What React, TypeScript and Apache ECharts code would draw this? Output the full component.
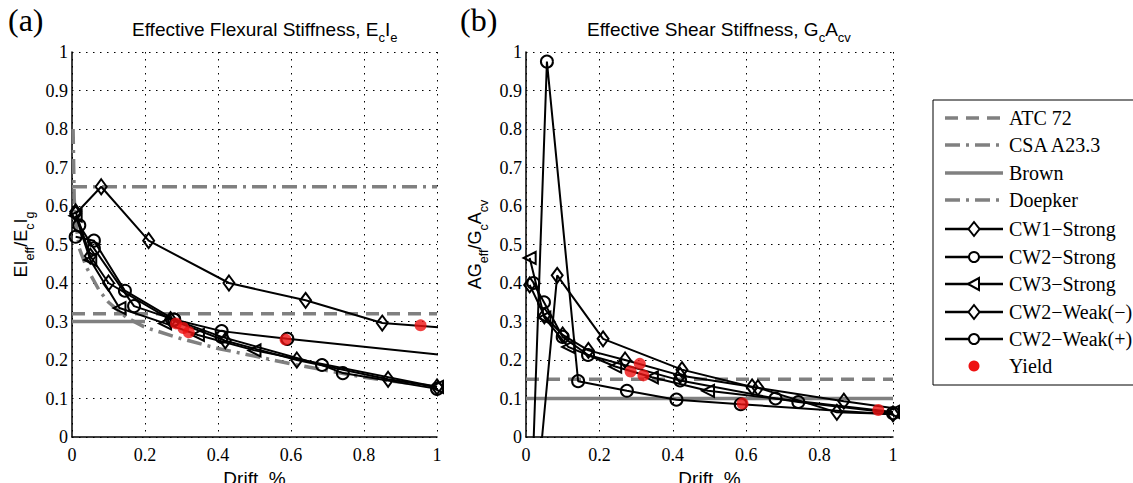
import React, { useEffect, useRef } from 'react';
import * as echarts from 'echarts';

// ---------- data (drift %, stiffness ratio) ----------
// Panel (a): flexural
const flexATC72 = [[0, 0.32], [1, 0.32]];
const flexCSA = [[0, 0.65], [1, 0.65]];
const flexBrown = [[0, 0.3], [0.2, 0.3]];
const flexDoepker = [[0.003, 0.8], [0.006, 0.62], [0.01, 0.56], [0.02, 0.49], [0.04, 0.44], [0.075, 0.38], [0.1, 0.35], [0.15, 0.31], [0.2, 0.285], [0.3, 0.255], [0.4, 0.23], [0.5, 0.21], [0.6, 0.19], [0.8, 0.155], [1.0, 0.13]];
const flexCW1S = [[0.01, 0.58], [0.08, 0.65], [0.21, 0.51], [0.43, 0.4], [0.64, 0.355], [0.85, 0.296], [1.1, 0.278]];
const flexCW2S = [[0.01, 0.52], [0.06, 0.51], [0.145, 0.38], [0.28, 0.305], [0.41, 0.275], [0.59, 0.255], [1.1, 0.205]];
const flexCW3S = [[0.01, 0.575], [0.05, 0.46], [0.13, 0.335], [0.255, 0.295], [0.345, 0.265], [0.5, 0.225], [1.0, 0.13]];
const flexCW2Wm = [[0.01, 0.585], [0.05, 0.47], [0.1, 0.4], [0.27, 0.305], [0.42, 0.25], [0.616, 0.2], [0.866, 0.15], [1.0, 0.13]];
const flexCW2Wp = [[0.02, 0.55], [0.06, 0.49], [0.17, 0.34], [0.28, 0.305], [0.41, 0.26], [0.685, 0.187], [0.742, 0.166], [1.0, 0.125]];
const flexYield = [[0.285, 0.295], [0.305, 0.283], [0.32, 0.272], [0.585, 0.253], [0.955, 0.29]];

// Panel (b): shear
const shearATC72 = [[0, 0.15], [1, 0.15]];
const shearBrown = [[0, 0.1], [1, 0.1]];
const shearCW1S = [[0.038, -0.06], [0.085, 0.42], [0.21, 0.255], [0.425, 0.175], [0.616, 0.13], [0.866, 0.093], [1.1, 0.062]];
const shearCW2S = [[0.01, -0.3], [0.057, 0.975], [0.142, 0.145], [0.275, 0.12], [0.41, 0.097], [0.585, 0.085], [1.1, 0.052]];
const shearCW3S = [[0.01, 0.465], [0.05, 0.31], [0.115, 0.234], [0.243, 0.183], [0.343, 0.155], [0.496, 0.12], [1.0, 0.065]];
const shearCW2Wm = [[0.01, 0.395], [0.05, 0.315], [0.1, 0.265], [0.17, 0.225], [0.27, 0.2], [0.42, 0.16], [0.632, 0.128], [0.847, 0.064], [1.0, 0.06]];
const shearCW2Wp = [[0.02, 0.4], [0.049, 0.35], [0.1, 0.26], [0.169, 0.213], [0.42, 0.147], [0.68, 0.1], [0.742, 0.091], [1.0, 0.062]];
const shearYield = [[0.285, 0.17], [0.31, 0.19], [0.32, 0.16], [0.59, 0.087], [0.96, 0.07]];

const legendNames = ['ATC 72', 'CSA A23.3', 'Brown', 'Doepker', 'CW1\u2212Strong', 'CW2\u2212Strong', 'CW3\u2212Strong', 'CW2\u2212Weak(\u2212)', 'CW2\u2212Weak(+)', 'Yield'];

const GRAY = '#808080';
const RED = '#ee1111';
const SERIF = 'Liberation Serif';
const SANS = 'Liberation Sans';
const DASH = [13, 8];
const DASHDOT = [15, 6, 3, 6];

const gray = (name: string, data: number[][], idx: number, type: any) => ({
  type: 'line', name, data, xAxisIndex: idx, yAxisIndex: idx, symbol: 'none', silent: true, z: 2,
  lineStyle: { color: GRAY, width: 3.5, type },
});

const black = (name: string, data: number[][], idx: number, symbol: string, size: any, rotate = 0) => ({
  type: 'line', name, data, xAxisIndex: idx, yAxisIndex: idx, symbol, symbolSize: size, symbolRotate: rotate,
  showAllSymbol: true, clip: true, silent: true, z: 3,
  lineStyle: { color: '#000', width: 2 },
  itemStyle: { color: 'rgba(0,0,0,0)', borderColor: '#000', borderWidth: 2 },
});

const yieldS = (data: number[][], idx: number) => ({
  type: 'scatter', name: 'Yield', data, xAxisIndex: idx, yAxisIndex: idx, symbol: 'circle', symbolSize: 12,
  silent: true, z: 4, itemStyle: { color: RED },
});

const rich = {
  n: { fontFamily: SANS, fontSize: 19, fontWeight: 'normal', color: '#000', lineHeight: 30 },
  s: { fontFamily: SANS, fontSize: 13, fontWeight: 'normal', color: '#000', lineHeight: 10, verticalAlign: 'bottom' },
};
const richY = {
  n: { fontFamily: SANS, fontSize: 18, fontWeight: 'normal', color: '#000', lineHeight: 30 },
  s: { fontFamily: SANS, fontSize: 12.5, fontWeight: 'normal', color: '#000', lineHeight: 10, verticalAlign: 'bottom' },
};

const makeX = (idx: number) => ({
  type: 'value', gridIndex: idx, min: 0, max: 1, interval: 0.2,
  name: 'Drift, %', nameLocation: 'middle', nameGap: 32,
  nameTextStyle: { fontFamily: SANS, fontSize: 19, color: '#000' },
  axisLine: { show: true, onZero: false, lineStyle: { color: '#000', width: 1.5 } },
  axisTick: { show: false },
  axisLabel: { fontFamily: SERIF, fontSize: 18, color: '#000', margin: 9 },
  splitLine: { show: true, lineStyle: { color: '#000', width: 1, type: [1.5, 5.5] } },
});

const makeY = (idx: number, name: string) => ({
  type: 'value', gridIndex: idx, min: 0, max: 1, interval: 0.1,
  name, nameLocation: 'middle', nameGap: 36, nameRotate: 90,
  nameTextStyle: { rich: richY },
  axisLine: { show: true, onZero: false, lineStyle: { color: '#000', width: 1.5 } },
  axisTick: { show: false },
  axisLabel: { fontFamily: SERIF, fontSize: 18, color: '#000', margin: 4 },
  splitLine: { show: true, lineStyle: { color: '#000', width: 1, type: [1.5, 5.5] } },
});

function legendGraphics() {
  const els: any[] = [];
  els.push({ type: 'rect', shape: { x: 933, y: 100, width: 215, height: 285 }, style: { fill: '#fff', stroke: '#000', lineWidth: 1 }, z: 10 });
  const x1 = 945, x2 = 1003, cx = 974;
  const ys = [118, 145, 173, 200, 229, 257, 284, 312, 339, 366];
  const styles: any[] = [
    { stroke: GRAY, lineWidth: 3.5, lineDash: DASH },
    { stroke: GRAY, lineWidth: 3.5, lineDash: DASHDOT },
    { stroke: GRAY, lineWidth: 3.5 },
    { stroke: GRAY, lineWidth: 3.5, lineDash: DASHDOT },
  ];
  ys.forEach((y, i) => {
    if (i < 4) {
      els.push({ type: 'line', shape: { x1, y1: y, x2, y2: y }, style: styles[i], z: 11 });
    } else if (i < 9) {
      els.push({ type: 'line', shape: { x1, y1: y, x2, y2: y }, style: { stroke: '#000', lineWidth: 2.5 }, z: 11 });
      const m = i - 4;
      if (m === 0 || m === 3) {
        els.push({ type: 'polygon', shape: { points: [[cx, y - 7], [cx + 5.5, y], [cx, y + 7], [cx - 5.5, y]] }, style: { fill: '#fff', stroke: '#000', lineWidth: 2 }, z: 12 });
      } else if (m === 1 || m === 4) {
        els.push({ type: 'circle', shape: { cx, cy: y, r: 5 }, style: { fill: '#fff', stroke: '#000', lineWidth: 2 }, z: 12 });
      } else {
        els.push({ type: 'polygon', shape: { points: [[cx - 6, y], [cx + 5, y - 6], [cx + 5, y + 6]] }, style: { fill: '#fff', stroke: '#000', lineWidth: 2 }, z: 12 });
      }
    } else {
      els.push({ type: 'circle', shape: { cx, cy: y, r: 5.5 }, style: { fill: RED }, z: 12 });
    }
    els.push({ type: 'text', x: 1009, y, style: { text: legendNames[i], fontFamily: SERIF, fontSize: 20, fill: '#000', verticalAlign: 'middle', align: 'left' }, z: 12 });
  });
  els.push({ type: 'text', x: 8, y: 4, style: { text: '(a)', fontFamily: SERIF, fontSize: 32, fill: '#000' } });
  els.push({ type: 'text', x: 460, y: 4, style: { text: '(b)', fontFamily: SERIF, fontSize: 32, fill: '#000' } });
  return els;
}

export default function App() {
  const ref = useRef<HTMLDivElement>(null);
  useEffect(() => {
    if (!ref.current) return;
    const chart = echarts.init(ref.current, undefined, { renderer: 'svg' });
    chart.setOption({
      animation: false,
      backgroundColor: '#fff',
      title: [
        { text: '{n|Effective Flexural Stiffness, E}{s|c}{n|I}{s|e}', left: 132, top: 14, padding: 0, textStyle: { fontWeight: 'normal', rich } },
        { text: '{n|Effective Shear Stiffness, G}{s|c}{n|A}{s|cv}', left: 587, top: 14, padding: 0, textStyle: { fontWeight: 'normal', rich } },
      ],
      grid: [
        { left: 72, top: 52, width: 365, height: 385, containLabel: false, outerBoundsMode: 'none' },
        { left: 526, top: 52, width: 367, height: 385, containLabel: false, outerBoundsMode: 'none' },
      ],
      xAxis: [makeX(0), makeX(1)],
      yAxis: [
        makeY(0, '{n|EI}{s|eff}{n|/E}{s|c}{n|I}{s|g}'),
        makeY(1, '{n|AG}{s|eff}{n|/G}{s|c}{n|A}{s|cv}'),
      ],
      series: [
        gray('ATC 72', flexATC72, 0, DASH),
        gray('CSA A23.3', flexCSA, 0, DASHDOT),
        gray('Brown', flexBrown, 0, 'solid'),
        gray('Doepker', flexDoepker, 0, DASHDOT),
        black('CW1-Strong', flexCW1S, 0, 'diamond', [11, 15]),
        black('CW2-Strong', flexCW2S, 0, 'circle', 12),
        black('CW3-Strong', flexCW3S, 0, 'triangle', 12, 90),
        black('CW2-Weak(-)', flexCW2Wm, 0, 'diamond', [11, 15]),
        black('CW2-Weak(+)', flexCW2Wp, 0, 'circle', 12),
        yieldS(flexYield, 0),
        gray('ATC 72', shearATC72, 1, DASH),
        gray('Brown', shearBrown, 1, 'solid'),
        black('CW1-Strong', shearCW1S, 1, 'diamond', [11, 15]),
        black('CW2-Strong', shearCW2S, 1, 'circle', 12),
        black('CW3-Strong', shearCW3S, 1, 'triangle', 12, 90),
        black('CW2-Weak(-)', shearCW2Wm, 1, 'diamond', [11, 15]),
        black('CW2-Weak(+)', shearCW2Wp, 1, 'circle', 12),
        yieldS(shearYield, 1),
      ],
      graphic: legendGraphics(),
    });
    return () => chart.dispose();
  }, []);
  return <div ref={ref} style={{ position: 'absolute', left: 0, top: 0, width: 1133, height: 483 }} />;
}
